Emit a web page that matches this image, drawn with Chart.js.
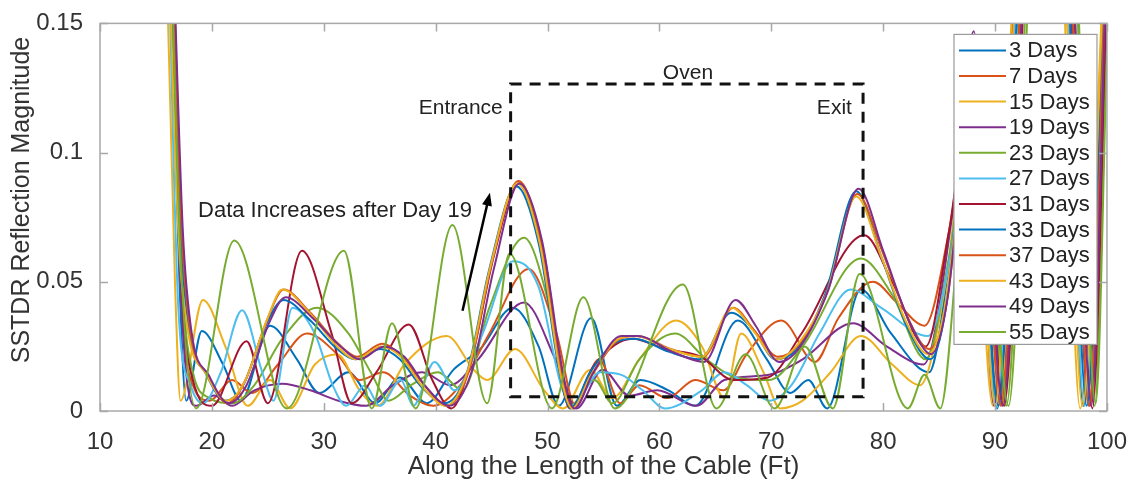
<!DOCTYPE html>
<html lang="en">
<head>
<meta charset="UTF-8">
<title>SSTDR Reflection Magnitude</title>
<script src="https://cdn.jsdelivr.net/npm/chart.js@4.4.0/dist/chart.umd.min.js"></script>
<style>
  html, body { margin: 0; padding: 0; background: #fff; }
  #wrap { width: 1136px; height: 484px; }
</style>
</head>
<body>
<div id="wrap"><canvas id="chart" width="1136" height="484"></canvas></div>
<script>
// series labels and MATLAB default colour order
const days = ['3 Days', '7 Days', '15 Days', '19 Days', '23 Days', '27 Days',
              '31 Days', '33 Days', '37 Days', '43 Days', '49 Days', '55 Days'];
const colors = ['#0072BD', '#D95319', '#EDB120', '#7E2F8E', '#77AC30', '#4DBEEE',
                '#A2142F', '#0072BD', '#D95319', '#EDB120', '#7E2F8E', '#77AC30'];

const xTicks = [10, 20, 30, 40, 50, 60, 70, 80, 90, 100];
const yTicks = [0, 0.05, 0.1, 0.15];

// [ft, magnitude] (values above 0.15 run off the top)
const d3 = [[16.1,0.2],[17.1,0.05],[17.7,0.004],[19.1,0.031],[21.0,0.018],[22.6,0.004],[25.2,0.033],[27.6,0.02],[29.6,0.007],[32.2,0.015],[34.6,0.003],[36.8,0.013],[39.2,0.003],[41.6,0.016],[44.0,0.024],[46.9,0.040],[49.2,0.025],[51.0,0.002],[53.9,0.036],[56.2,0.002],[58.3,0.012],[60.8,0.008],[63.2,0.002],[67.0,0.035],[69.6,0.02],[71.7,0.007],[73.3,0.012],[75.0,0.001],[78.0,0.047],[80.7,0.03],[84.1,0.015],[86.0,0.06],[88.0,0.125],[90.2,0.001],[92.4,0.2],[94.3,0.25],[96.0,0.2],[97.9,0.002],[100,0.19]];
const d7 = [[16.2,0.2],[17.2,0.05],[18.3,0.01],[19.8,0.004],[21.8,0.012],[23.6,0.007],[25.9,0.018],[28.5,0.030],[31.2,0.022],[33.2,0.012],[35.3,0.015],[37.7,0.006],[39.8,0.002],[42.2,0.01],[44.8,0.03],[48.3,0.055],[50.8,0.03],[52.5,0.002],[54.6,0.020],[56.5,0.003],[58.2,0.010],[60.7,0.005],[63.2,0.012],[65.7,0.008],[67.8,0.022],[70.9,0.035],[73.9,0.019],[76.0,0.036],[79.1,0.050],[81.2,0.042],[83.7,0.033],[85.9,0.07],[88.2,0.13],[90.6,0.002],[92.8,0.2],[94.6,0.25],[96.4,0.2],[98.5,0.002],[100,0.18]];
const d15 = [[15.8,0.2],[16.7,0.05],[17.2,0.004],[19.2,0.043],[21.2,0.025],[23.2,0.002],[25.2,0.012],[27.0,0.001],[29.2,0.018],[31.2,0.022],[33.2,0.008],[34.8,0.002],[37.2,0.018],[41.0,0.029],[43.4,0.016],[44.6,0.012],[47.1,0.024],[49.7,0.008],[51.4,0.001],[53.8,0.016],[55.8,0.005],[58.2,0.02],[61.5,0.035],[63.8,0.025],[65.8,0.005],[67.3,0.03],[69.3,0.015],[70.8,0.001],[72.8,0.004],[75.3,0.015],[78.0,0.029],[80.8,0.018],[83.3,0.01],[85.6,0.05],[87.8,0.12],[89.8,0.002],[92.0,0.2],[94.0,0.25],[95.8,0.2],[97.6,0.001],[100,0.2]];
const d19 = [[16.3,0.2],[17.3,0.04],[18.6,0.002],[20.2,0.006],[21.8,0.002],[23.8,0.008],[26.3,0.0105],[28.8,0.008],[31.3,0.004],[33.8,0.002],[36.2,0.01],[38.8,0.015],[41.3,0.01],[43.8,0.02],[47.9,0.042],[50.7,0.02],[52.6,0.001],[54.9,0.016],[57.3,0.006],[59.8,0.008],[63.3,0.002],[65.8,0.012],[69.8,0.014],[72.8,0.02],[77.3,0.034],[80.3,0.025],[83.6,0.018],[86.3,0.08],[88.1,0.147],[89.9,0.002],[92.2,0.2],[94.4,0.25],[96.3,0.2],[98.4,0.002],[100,0.17]];
const d23 = [[16.4,0.2],[17.4,0.05],[18.3,0.015],[19.8,0.005],[21.8,0.003],[23.8,0.01],[26.3,0.028],[29.4,0.040],[32.2,0.03],[34.2,0.015],[35.8,0.004],[37.8,0.01],[40.2,0.015],[42.4,0.008],[44.8,0.04],[47.9,0.067],[50.2,0.04],[52.0,0.002],[54.2,0.012],[55.8,0.003],[58.2,0.02],[61.4,0.030],[64.2,0.02],[66.8,0.013],[69.8,0.012],[72.8,0.025],[78.0,0.059],[80.8,0.045],[83.8,0.02],[85.9,0.06],[88.4,0.13],[91.0,0.002],[93.2,0.2],[95.0,0.25],[96.9,0.2],[98.9,0.002],[100,0.15]];
const d27 = [[16.0,0.2],[17.0,0.04],[18.1,0.01],[19.2,0.003],[20.8,0.015],[22.7,0.039],[24.5,0.015],[25.5,0.004],[27.2,0.040],[29.2,0.03],[30.8,0.01],[32.0,0.002],[33.7,0.01],[35.0,0.002],[36.9,0.012],[38.0,0.002],[39.9,0.019],[41.7,0.008],[44.2,0.03],[46.9,0.058],[49.2,0.048],[51.2,0.01],[52.2,0.002],[54.7,0.015],[56.6,0.014],[58.5,0.008],[60.5,0.001],[63.8,0.008],[65.8,0.015],[67.8,0.01],[69.8,0.004],[71.8,0.01],[74.3,0.03],[77.1,0.047],[79.8,0.04],[84.0,0.029],[86.0,0.06],[88.0,0.12],[90.1,0.001],[92.3,0.2],[94.2,0.25],[96.1,0.2],[98.0,0.002],[100,0.2]];
const d31 = [[16.3,0.2],[17.3,0.05],[18.3,0.012],[20.0,0.002],[23.1,0.027],[25.0,0.003],[28.05,0.062],[30.7,0.03],[32.5,0.003],[34.7,0.015],[37.6,0.0335],[39.7,0.012],[41.4,0.001],[43.2,0.02],[45.2,0.06],[47.4,0.088],[49.7,0.06],[52.0,0.001],[54.2,0.018],[57.6,0.028],[60.5,0.024],[63.7,0.021],[66.6,0.012],[69.7,0.013],[72.7,0.03],[78.3,0.068],[80.8,0.05],[83.8,0.025],[85.9,0.07],[88.3,0.135],[90.8,0.002],[93.0,0.2],[94.8,0.25],[96.6,0.2],[98.7,0.001],[100,0.16]];
const d33 = [[16.2,0.2],[17.2,0.07],[18.0,0.03],[19.4,0.015],[21.2,0.004],[22.8,0.01],[24.8,0.033],[26.4,0.043],[28.8,0.035],[31.2,0.024],[32.8,0.02],[35.1,0.024],[36.8,0.02],[38.8,0.009],[40.8,0.003],[42.8,0.015],[44.8,0.055],[47.2,0.087],[49.2,0.065],[51.2,0.012],[52.1,0.001],[53.8,0.015],[56.3,0.027],[57.8,0.028],[60.8,0.023],[63.6,0.02],[66.4,0.038],[68.3,0.032],[70.4,0.02],[72.3,0.024],[74.8,0.045],[77.6,0.085],[79.8,0.06],[82.2,0.032],[84.2,0.02],[85.6,0.04],[86.8,0.09],[88.1,0.13],[90.3,0.002],[92.5,0.2],[94.4,0.25],[96.2,0.2],[98.2,0.002],[100,0.2]];
const d37 = [[16.3,0.2],[17.3,0.07],[18.1,0.03],[19.6,0.014],[21.4,0.003],[23.0,0.012],[25.0,0.036],[26.4,0.047],[28.8,0.038],[31.3,0.026],[33.0,0.021],[35.2,0.026],[37.0,0.021],[39.0,0.01],[41.0,0.002],[43.0,0.016],[45.0,0.057],[47.4,0.089],[49.4,0.066],[51.4,0.012],[52.3,0.001],[54.0,0.014],[56.5,0.028],[58.0,0.029],[61.0,0.024],[63.9,0.021],[66.6,0.040],[68.5,0.031],[70.6,0.021],[72.5,0.026],[75.0,0.046],[77.7,0.084],[79.9,0.062],[82.2,0.036],[84.1,0.024],[85.6,0.04],[87.0,0.09],[88.3,0.135],[90.5,0.002],[92.7,0.2],[94.6,0.25],[96.5,0.2],[98.4,0.002],[100,0.19]];
const d43 = [[16.0,0.2],[17.0,0.07],[17.9,0.03],[19.4,0.015],[21.3,0.004],[22.9,0.011],[24.9,0.035],[26.3,0.047],[28.7,0.038],[31.2,0.025],[32.9,0.02],[35.1,0.025],[36.9,0.021],[38.9,0.009],[40.9,0.002],[42.9,0.016],[44.9,0.056],[47.3,0.088],[49.3,0.065],[51.3,0.011],[52.2,0.001],[53.9,0.014],[56.4,0.028],[57.9,0.029],[60.9,0.024],[63.8,0.021],[66.5,0.04],[68.4,0.031],[70.5,0.02],[72.4,0.026],[74.9,0.045],[77.6,0.083],[79.8,0.06],[82.1,0.034],[84.0,0.022],[85.5,0.04],[86.9,0.09],[88.0,0.125],[90.0,0.002],[92.2,0.2],[94.2,0.25],[96.0,0.2],[97.8,0.002],[100,0.2]];
const d49 = [[16.4,0.2],[17.4,0.07],[18.2,0.03],[19.7,0.014],[21.5,0.003],[23.1,0.01],[25.1,0.034],[26.6,0.044],[29.0,0.036],[31.5,0.025],[33.2,0.02],[35.4,0.025],[37.2,0.021],[39.2,0.009],[41.2,0.002],[43.2,0.015],[45.2,0.055],[47.5,0.088],[49.5,0.066],[51.5,0.012],[52.4,0.001],[54.1,0.015],[56.6,0.029],[58.1,0.029],[61.1,0.023],[64.0,0.019],[66.8,0.043],[68.6,0.033],[70.7,0.019],[72.6,0.025],[75.1,0.047],[77.8,0.086],[80.0,0.062],[82.3,0.035],[84.3,0.022],[85.8,0.045],[87.1,0.1],[88.4,0.14],[90.7,0.002],[92.9,0.2],[94.8,0.25],[96.7,0.2],[98.6,0.002],[100,0.18]];
const d55 = [[16.2,0.2],[17.2,0.06],[18.6,0.001],[22.0,0.066],[26.7,0.001],[31.8,0.062],[34.3,0.001],[36.1,0.034],[38.2,0.001],[41.5,0.072],[44.6,0.003],[46.6,0.061],[50.4,0.001],[53.2,0.044],[56.0,0.001],[62.1,0.049],[65.1,0.001],[67.7,0.022],[70.3,0.001],[73.0,0.025],[75.5,0.001],[77.9,0.053],[82.2,0.001],[83.7,0.014],[85.1,0.001],[87.0,0.08],[88.6,0.13],[91.2,0.002],[93.4,0.2],[95.2,0.25],[97.0,0.2],[99.0,0.003],[100,0.14]];

const series = [d3, d7, d15, d19, d23, d27, d31, d33, d37, d43, d49, d55];

// annotations, in data units
const ovenBox = [46.7, 78.2, 0.0055, 0.1265];   // x0, x1, y0, y1
const notes = [
  ['Oven', 62.55, 0.1308, 'center', 21],
  ['Entrance', 46.0, 0.117, 'right', 21],
  ['Exit', 77.2, 0.117, 'right', 21],
  ['Data Increases after Day 19', 31.0, 0.0776, 'center', 22]
];
const arrow = [42.4, 0.0388, 44.85, 0.0845];

const FONT = '"Liberation Sans", Arial, Helvetica, sans-serif';

const overlay = {
  id: 'overlay',
  afterDatasetsDraw(chart) {
    const { ctx, chartArea: a, scales: { x, y } } = chart;
    ctx.save();

    // oven dashed box
    ctx.strokeStyle = '#111';
    ctx.lineWidth = 3;
    ctx.setLineDash([11, 8]);
    const bx0 = x.getPixelForValue(ovenBox[0]), bx1 = x.getPixelForValue(ovenBox[1]);
    const by0 = y.getPixelForValue(ovenBox[2]), by1 = y.getPixelForValue(ovenBox[3]);
    ctx.strokeRect(bx0, by1, bx1 - bx0, by0 - by1);
    ctx.setLineDash([]);

    // text notes
    ctx.fillStyle = '#222';
    ctx.textBaseline = 'middle';
    notes.forEach(n => {
      ctx.font = n[4] + 'px ' + FONT;
      ctx.textAlign = n[3];
      ctx.fillText(n[0], x.getPixelForValue(n[1]), y.getPixelForValue(n[2]));
    });

    // arrow
    const ax0 = x.getPixelForValue(arrow[0]), ay0 = y.getPixelForValue(arrow[1]);
    const ax1 = x.getPixelForValue(arrow[2]), ay1 = y.getPixelForValue(arrow[3]);
    const ang = Math.atan2(ay1 - ay0, ax1 - ax0);
    ctx.strokeStyle = '#000';
    ctx.fillStyle = '#000';
    ctx.lineWidth = 2.5;
    ctx.beginPath();
    ctx.moveTo(ax0, ay0);
    ctx.lineTo(ax1 - 8 * Math.cos(ang), ay1 - 8 * Math.sin(ang));
    ctx.stroke();
    ctx.beginPath();
    ctx.moveTo(ax1, ay1);
    ctx.lineTo(ax1 - 13 * Math.cos(ang) + 5 * Math.sin(ang), ay1 - 13 * Math.sin(ang) - 5 * Math.cos(ang));
    ctx.lineTo(ax1 - 13 * Math.cos(ang) - 5 * Math.sin(ang), ay1 - 13 * Math.sin(ang) + 5 * Math.cos(ang));
    ctx.closePath();
    ctx.fill();

    // legend box
    const lx = a.right - 153, ly = a.top + 11, lw = 143, lh = 310;
    ctx.fillStyle = '#fff';
    ctx.fillRect(lx, ly, lw, lh);
    ctx.strokeStyle = '#9a9a9a';
    ctx.lineWidth = 1.2;
    ctx.strokeRect(lx, ly, lw, lh);
    ctx.font = '22px ' + FONT;
    ctx.textAlign = 'left';
    days.forEach((d, i) => {
      const ry = ly + 16 + 25.6 * i;
      ctx.strokeStyle = colors[i];
      ctx.lineWidth = 2;
      ctx.beginPath();
      ctx.moveTo(lx + 5, ry);
      ctx.lineTo(lx + 52, ry);
      ctx.stroke();
      ctx.fillStyle = '#222';
      ctx.fillText(d, lx + 55, ry + 1);
    });

    // axes frame with inward ticks
    ctx.strokeStyle = '#a8a8a8';
    ctx.lineWidth = 1.5;
    ctx.strokeRect(a.left, a.top, a.right - a.left, a.bottom - a.top);
    ctx.beginPath();
    xTicks.forEach(t => {
      const px = Math.round(x.getPixelForValue(t)) + 0.5;
      ctx.moveTo(px, a.bottom); ctx.lineTo(px, a.bottom - 8);
      ctx.moveTo(px, a.top); ctx.lineTo(px, a.top + 8);
    });
    yTicks.forEach(t => {
      const py = Math.round(y.getPixelForValue(t)) + 0.5;
      ctx.moveTo(a.left, py); ctx.lineTo(a.left + 8, py);
      ctx.moveTo(a.right, py); ctx.lineTo(a.right - 8, py);
    });
    ctx.stroke();

    // y axis title, placed as in the figure (slightly above centre)
    ctx.translate(22, 200);
    ctx.rotate(-Math.PI / 2);
    ctx.fillStyle = '#333';
    ctx.font = '25px ' + FONT;
    ctx.textAlign = 'center';
    ctx.textBaseline = 'middle';
    ctx.fillText('SSTDR Reflection Magnitude', 0, 0);
    ctx.restore();
  }
};

new Chart(document.getElementById('chart'), {
  type: 'line',
  data: {
    datasets: series.map((s, i) => ({
      label: days[i],
      data: s.map(p => ({ x: p[0], y: p[1] })),
      borderColor: colors[i],
      backgroundColor: colors[i],
      borderWidth: 2,
      pointRadius: 0,
      cubicInterpolationMode: 'monotone',
      order: series.length - i
    }))
  },
  options: {
    responsive: false,
    animation: false,
    devicePixelRatio: 1,
    layout: { padding: { left: 0, right: 29, top: 13, bottom: 0 } },
    plugins: { legend: { display: false }, tooltip: { enabled: false } },
    scales: {
      x: {
        type: 'linear',
        min: 10, max: 100,
        afterBuildTicks: s => { s.ticks = xTicks.map(v => ({ value: v })); },
        afterFit: s => { s.height = 73; },
        grid: { display: false },
        border: { display: false },
        ticks: { color: '#333', padding: 9, maxRotation: 0, font: { size: 24, family: FONT } },
        title: { display: true, text: 'Along the Length of the Cable (Ft)', color: '#333',
                 padding: { top: 0, bottom: 2 }, font: { size: 26, family: FONT } }
      },
      y: {
        min: 0, max: 0.15,
        afterBuildTicks: s => { s.ticks = yTicks.map(v => ({ value: v })); },
        afterFit: s => { s.width = 100; },
        grid: { display: false },
        border: { display: false },
        ticks: { color: '#333', padding: 9, font: { size: 24, family: FONT },
                 callback: v => String(v) },
        title: { display: false }
      }
    }
  },
  plugins: [overlay]
});
</script>
</body>
</html>
